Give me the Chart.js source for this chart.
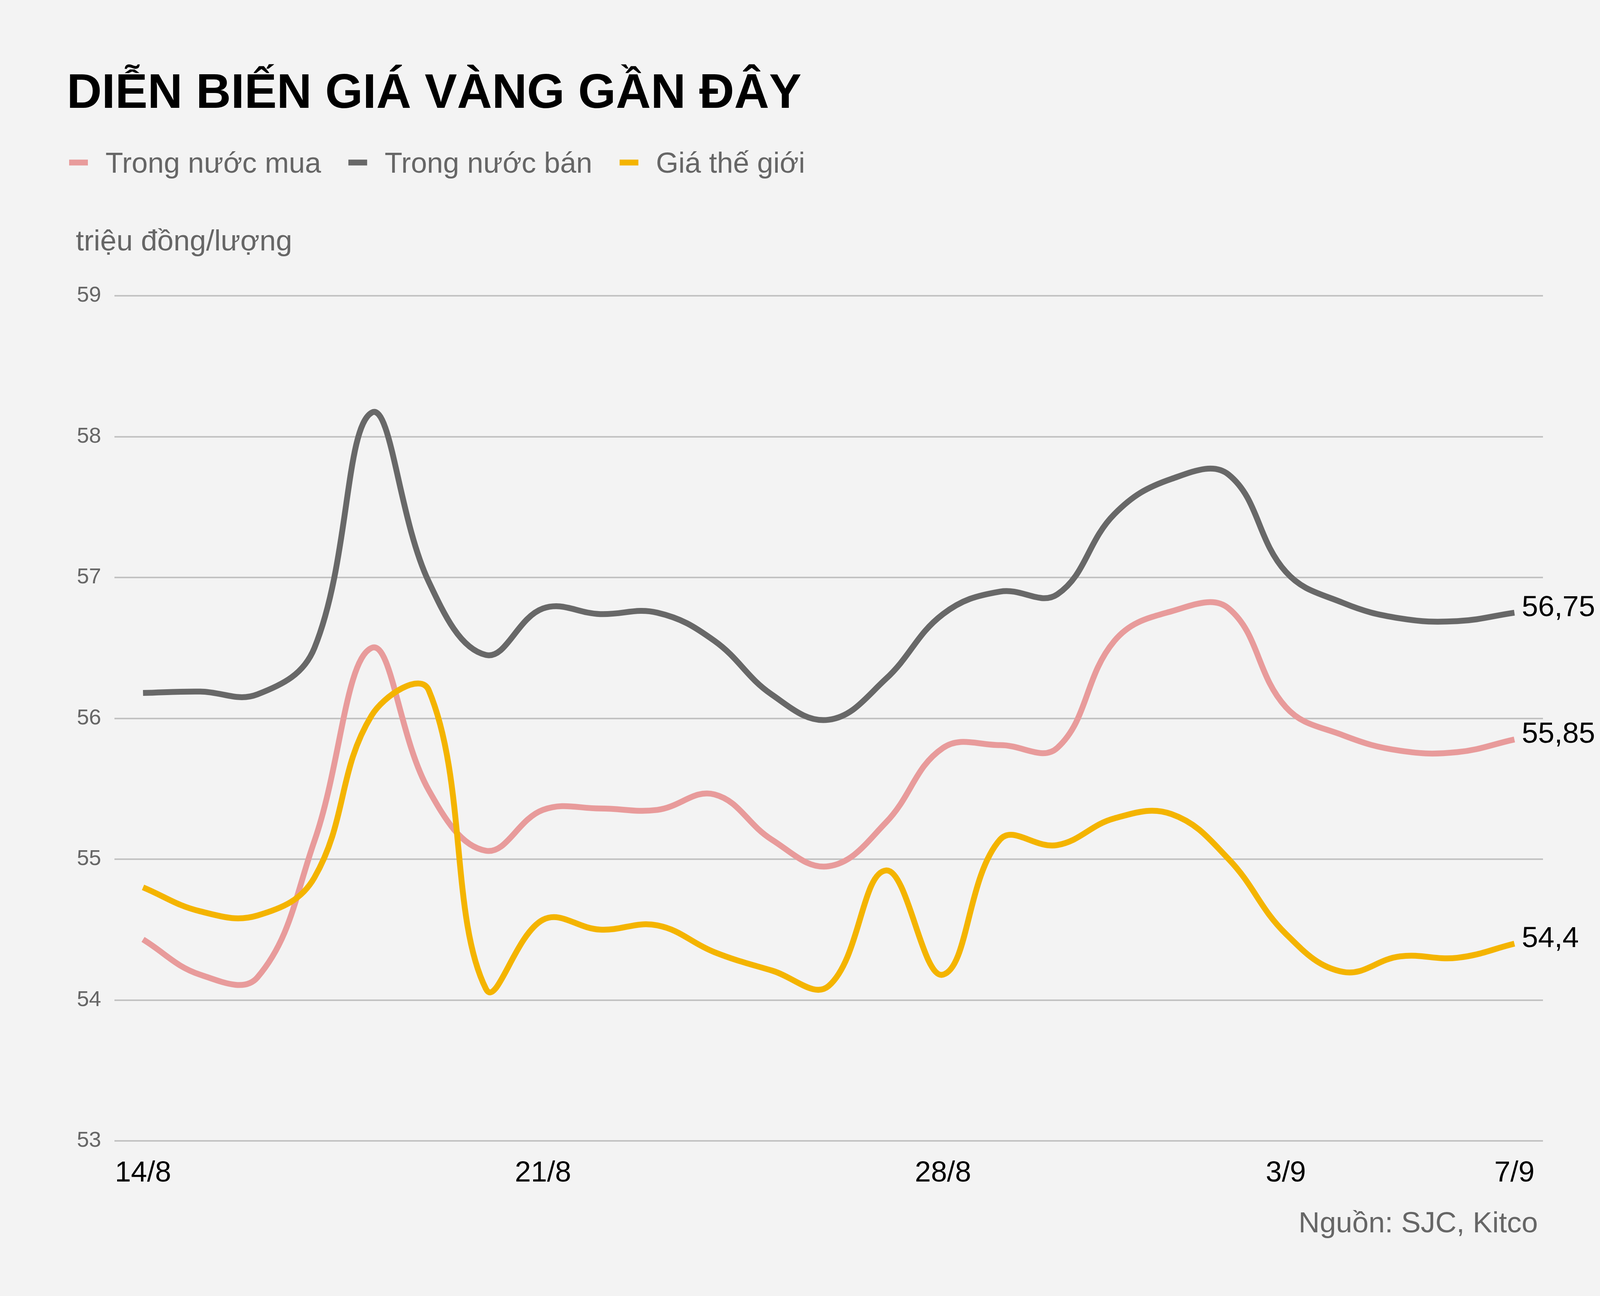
<!DOCTYPE html>
<html>
<head>
<meta charset="utf-8">
<script src="https://cdn.jsdelivr.net/npm/chart.js@4.4.0/dist/chart.umd.min.js"></script>
<style>
  html, body { margin: 0; padding: 0; background: #f3f3f3; }
  canvas { display: block; }
</style>
</head>
<body>
<canvas id="myChart" width="4179" height="3317" style="width:4179px;height:3317px"></canvas>
<script>
// Gold price chart, 14/8 - 7/9 (trieu dong/luong)

const days = ['14/8', '15/8', '16/8', '17/8', '18/8', '19/8', '20/8', '21/8', '22/8', '23/8',
              '24/8', '25/8', '26/8', '27/8', '28/8', '29/8', '30/8', '31/8', '1/9', '2/9',
              '3/9', '4/9', '5/9', '6/9', '7/9'];
const tickLabels = ['14/8', '21/8', '28/8', '3/9', '7/9'];

const buyPrices = [54.43, 54.18, 54.16, 55.13, 56.5, 55.49, 55.06, 55.35, 55.36, 55.35,
                   55.46, 55.14, 54.95, 55.26, 55.79, 55.81, 55.79, 56.55, 56.76, 56.78,
                   56.08, 55.88, 55.77, 55.76, 55.85];
const sellPrices = [56.18, 56.19, 56.17, 56.5, 58.17, 56.97, 56.45, 56.78, 56.74, 56.75,
                    56.55, 56.17, 55.99, 56.28, 56.74, 56.9, 56.88, 57.45, 57.7, 57.73,
                    57.04, 56.82, 56.71, 56.69, 56.75];
const worldPrices = [54.8, 54.63, 54.6, 54.87, 56.02, 56.2, 54.08, 54.57, 54.5, 54.53,
                     54.34, 54.21, 54.1, 54.92, 54.18, 55.14, 55.1, 55.29, 55.32, 55.0,
                     54.47, 54.2, 54.31, 54.3, 54.4];

const seriesNames = ['Trong nước mua', 'Trong nước bán', 'Giá thế giới'];
const seriesColors = ['#e89b9b', '#686868', '#f4b400'];

const FONT = "'Liberation Sans', Arial, sans-serif";

// titles, legend, source and end labels
const textPlugin = {
    id: 'texts',
    beforeDraw(chart) {
        const ctx = chart.ctx;
        ctx.save();
        ctx.fillStyle = '#f3f3f3';
        ctx.fillRect(0, 0, chart.width, chart.height);
        ctx.restore();
    },
    afterDraw(chart) {
        const ctx = chart.ctx;
        ctx.save();
        ctx.textBaseline = 'alphabetic';

        // title
        ctx.fillStyle = '#000';
        ctx.font = 'bold 124px ' + FONT;
        ctx.textAlign = 'left';
        ctx.fillText('DIỄN BIẾN GIÁ VÀNG GẦN ĐÂY', 171, 276);

        // legend
        ctx.font = '74px ' + FONT;
        let x = 177;
        chart.data.datasets.forEach(ds => {
            ctx.strokeStyle = ds.borderColor;
            ctx.lineWidth = 15;
            ctx.beginPath();
            ctx.moveTo(x, 416);
            ctx.lineTo(x + 48, 416);
            ctx.stroke();
            ctx.fillStyle = '#666';
            const tx = x + 48 + 45;
            ctx.fillText(ds.label, tx, 442);
            x = tx + ctx.measureText(ds.label).width + 70;
        });

        // unit
        ctx.font = '75px ' + FONT;
        ctx.fillStyle = '#666';
        ctx.fillText('triệu đồng/lượng', 194, 641);

        // source
        ctx.textAlign = 'right';
        ctx.fillText('Nguồn: SJC, Kitco', 3937, 3154);

        // value at end of each line
        ctx.textAlign = 'left';
        ctx.textBaseline = 'middle';
        ctx.fillStyle = '#000';
        chart.data.datasets.forEach((ds, i) => {
            const meta = chart.getDatasetMeta(i);
            const last = meta.data[meta.data.length - 1];
            const val = ds.data[ds.data.length - 1];
            ctx.fillText(String(val).replace('.', ','), last.x + 19, last.y - 12);
        });
        ctx.restore();
    }
};

const ctx = document.getElementById('myChart');
const myChart = new Chart(ctx, {
    type: 'line',
    data: {
        labels: days,
        datasets: [
            { label: seriesNames[0], data: buyPrices, borderColor: seriesColors[0], order: 1 },
            { label: seriesNames[1], data: sellPrices, borderColor: seriesColors[1], order: 2 },
            { label: seriesNames[2], data: worldPrices, borderColor: seriesColors[2], order: 0 }
        ]
    },
    options: {
        responsive: false,
        devicePixelRatio: 1,
        animation: false,
        layout: {
            padding: { top: 757, left: 0, right: 229, bottom: 247 }
        },
        elements: {
            line: { borderWidth: 15, tension: 0.4, fill: false, borderCapStyle: 'butt' },
            point: { radius: 0, hoverRadius: 0 }
        },
        scales: {
            x: {
                type: 'category',
                offset: true,
                grid: { display: false, drawTicks: false },
                border: { display: false },
                afterFit: scale => { scale.height = 150; },
                ticks: {
                    autoSkip: false,
                    maxRotation: 0,
                    padding: 39,
                    color: '#000',
                    font: { family: FONT, size: 74 },
                    callback: function (value) {
                        const lbl = this.getLabelForValue(value);
                        return tickLabels.includes(lbl) ? lbl : '';
                    }
                }
            },
            y: {
                min: 53,
                max: 59,
                afterFit: scale => { scale.width = 293; },
                grid: { color: '#c2c2c2', lineWidth: 4, drawTicks: false },
                border: { display: false },
                ticks: {
                    stepSize: 1,
                    padding: 34,
                    color: '#666',
                    font: { family: FONT, size: 56 }
                }
            }
        },
        plugins: {
            legend: { display: false },
            title: { display: false },
            tooltip: { enabled: false }
        }
    },
    plugins: [textPlugin]
});
</script>
</body>
</html>
